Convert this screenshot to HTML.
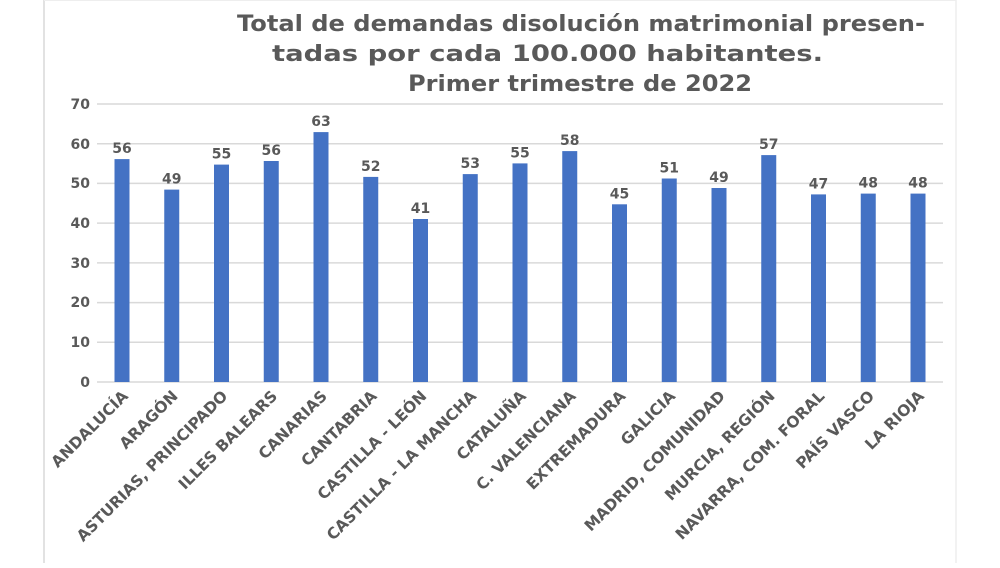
<!DOCTYPE html><html><head><meta charset="utf-8"><style>body{margin:0;background:#fff}</style></head><body>
<svg width="1000" height="563" xmlns="http://www.w3.org/2000/svg" font-family="DejaVu Sans, Liberation Sans, sans-serif" font-weight="bold">
<rect width="1000" height="563" fill="#fff"/>
<line x1="44" y1="0" x2="44" y2="563" stroke="#d9d9d9" stroke-width="1.5"/>
<line x1="956" y1="0" x2="956" y2="563" stroke="#eeeeee" stroke-width="1.5"/>
<line x1="44" y1="0.5" x2="956" y2="0.5" stroke="#eeeeee"/>
<g fill="#595959" font-size="22">
<text x="237" y="31" textLength="688" lengthAdjust="spacingAndGlyphs">Total de demandas disolución matrimonial presen-</text>
<text x="272" y="61" textLength="551" lengthAdjust="spacingAndGlyphs">tadas por cada 100.000 habitantes.</text>
<text x="408" y="91" textLength="344" lengthAdjust="spacingAndGlyphs">Primer trimestre de 2022</text>
</g>
<g stroke="#d9d9d9" stroke-width="1.5">
<line x1="97" y1="104" x2="943" y2="104"/><line x1="97" y1="143.7" x2="943" y2="143.7"/><line x1="97" y1="183.4" x2="943" y2="183.4"/><line x1="97" y1="223.1" x2="943" y2="223.1"/><line x1="97" y1="262.9" x2="943" y2="262.9"/><line x1="97" y1="302.6" x2="943" y2="302.6"/><line x1="97" y1="342.3" x2="943" y2="342.3"/><line x1="97" y1="382" x2="943" y2="382"/>
</g>
<g fill="#595959" font-size="14" text-anchor="end">
<text x="90" y="109">70</text><text x="90" y="149">60</text><text x="90" y="188">50</text><text x="90" y="228">40</text><text x="90" y="268">30</text><text x="90" y="307">20</text><text x="90" y="347">10</text><text x="90" y="387">0</text>
</g>
<g fill="#4472c4">
<rect x="114.5" y="159.1" width="15" height="222.9"/>
<rect x="164.25" y="189.6" width="15" height="192.4"/>
<rect x="214" y="164.6" width="15" height="217.4"/>
<rect x="263.75" y="161" width="15" height="221"/>
<rect x="313.5" y="132.1" width="15" height="249.9"/>
<rect x="363.25" y="176.9" width="15" height="205.1"/>
<rect x="413" y="219" width="15" height="163"/>
<rect x="462.75" y="174.1" width="15" height="207.9"/>
<rect x="512.5" y="163.4" width="15" height="218.6"/>
<rect x="562.25" y="151.1" width="15" height="230.9"/>
<rect x="612" y="204.3" width="15" height="177.7"/>
<rect x="661.75" y="178.5" width="15" height="203.5"/>
<rect x="711.5" y="188" width="15" height="194"/>
<rect x="761.25" y="155.1" width="15" height="226.9"/>
<rect x="811" y="194.4" width="15" height="187.6"/>
<rect x="860.75" y="193.6" width="15" height="188.4"/>
<rect x="910.5" y="193.6" width="15" height="188.4"/>
</g>
<g fill="#595959" font-size="14" text-anchor="middle">
<text x="122" y="153">56</text><text x="171.75" y="183.6">49</text><text x="221.5" y="158.6">55</text><text x="271.25" y="155">56</text><text x="321" y="126">63</text><text x="370.75" y="171">52</text><text x="420.5" y="213">41</text><text x="470.25" y="168">53</text><text x="520" y="157.4">55</text><text x="569.75" y="145">58</text><text x="619.5" y="198.3">45</text><text x="669.25" y="172.5">51</text><text x="719" y="182">49</text><text x="768.75" y="149">57</text><text x="818.5" y="188.4">47</text><text x="868.25" y="187.6">48</text><text x="918" y="187.6">48</text>
</g>
<g fill="#595959" font-size="15.5" text-anchor="end">
<text transform="translate(129,397) rotate(-45)">ANDALUCÍA</text>
<text transform="translate(178.75,397) rotate(-45)">ARAGÓN</text>
<text transform="translate(228.5,397) rotate(-45)">ASTURIAS, PRINCIPADO</text>
<text transform="translate(278.25,397) rotate(-45)">ILLES BALEARS</text>
<text transform="translate(328,397) rotate(-45)">CANARIAS</text>
<text transform="translate(377.75,397) rotate(-45)">CANTABRIA</text>
<text transform="translate(427.5,397) rotate(-45)">CASTILLA - LEÓN</text>
<text transform="translate(477.25,397) rotate(-45)">CASTILLA - LA MANCHA</text>
<text transform="translate(527,397) rotate(-45)">CATALUÑA</text>
<text transform="translate(576.75,397) rotate(-45)">C. VALENCIANA</text>
<text transform="translate(626.5,397) rotate(-45)">EXTREMADURA</text>
<text transform="translate(676.25,397) rotate(-45)">GALICIA</text>
<text transform="translate(726,397) rotate(-45)">MADRID, COMUNIDAD</text>
<text transform="translate(775.75,397) rotate(-45)">MURCIA, REGIÓN</text>
<text transform="translate(825.5,397) rotate(-45)">NAVARRA, COM. FORAL</text>
<text transform="translate(875.25,397) rotate(-45)">PAÍS VASCO</text>
<text transform="translate(925,397) rotate(-45)">LA RIOJA</text>
</g>
</svg></body></html>
